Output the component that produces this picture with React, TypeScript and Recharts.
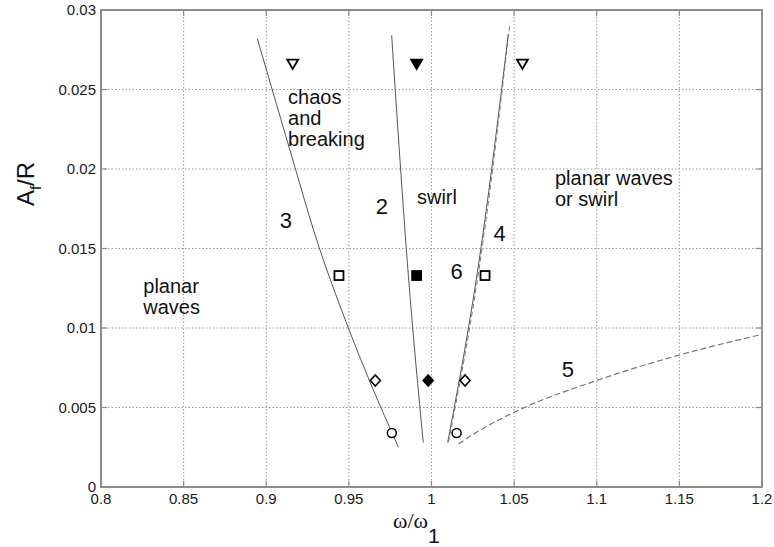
import React from 'react';
import { ComposedChart, Line, Scatter, XAxis, YAxis, CartesianGrid, ReferenceArea } from 'recharts';

document.body.style.margin = '0';

const FONT = '"Liberation Sans", Arial, Helvetica, sans-serif';

// axis ticks
const xTicks = [0.8, 0.85, 0.9, 0.95, 1, 1.05, 1.1, 1.15, 1.2];
const xTickLabels = ['0.8', '0.85', '0.9', '0.95', '1', '1.05', '1.1', '1.15', '1.2'];
const yTicks = [0, 0.005, 0.01, 0.015, 0.02, 0.025, 0.03];
const yTickLabels = ['0', '0.005', '0.01', '0.015', '0.02', '0.025', '0.03'];

// boundary curves
const curve2 = [
  { x: 0.9759, y: 0.0284 },
  { x: 0.986, y: 0.0133 },
  { x: 0.995, y: 0.0028 },
];
const curve3 = [
  { x: 0.8946, y: 0.0282 },
  { x: 0.9174, y: 0.0201 },
  { x: 0.9285, y: 0.0162 },
  { x: 0.9497, y: 0.01 },
  { x: 0.9628, y: 0.0066 },
  { x: 0.98, y: 0.0025 },
];
const curve4 = [
  { x: 1.0098, y: 0.0028 },
  { x: 1.0303, y: 0.0153 },
  { x: 1.0465, y: 0.0285 },
];
const curve4Dashed = [
  { x: 1.0102, y: 0.0028 },
  { x: 1.031, y: 0.0153 },
  { x: 1.0475, y: 0.0292 },
];
const curve5 = [
  { x: 1.0163, y: 0.0027 },
  { x: 1.025, y: 0.0033 },
  { x: 1.05, y: 0.0047 },
  { x: 1.1, y: 0.0067 },
  { x: 1.15, y: 0.0083 },
  { x: 1.2, y: 0.0096 },
];

// experiment markers
const openTriangles = [{ x: 0.916, y: 0.0266 }, { x: 1.055, y: 0.0266 }];
const filledTriangles = [{ x: 0.991, y: 0.0266 }];
const openSquares = [{ x: 0.944, y: 0.0133 }, { x: 1.0324, y: 0.0133 }];
const filledSquares = [{ x: 0.991, y: 0.0133 }];
const openDiamonds = [{ x: 0.966, y: 0.0067 }, { x: 1.0203, y: 0.0067 }];
const filledDiamonds = [{ x: 0.998, y: 0.0067 }];
const openCircles = [{ x: 0.976, y: 0.0034 }, { x: 1.0152, y: 0.0034 }];

// region annotations
const regionLabels = [
  { x: 0.9132, y: 0.0241, lines: ['chaos', 'and', 'breaking'] },
  { x: 0.9912, y: 0.0178, lines: ['swirl'] },
  { x: 1.0747, y: 0.019, lines: ['planar waves', 'or swirl'] },
  { x: 0.8256, y: 0.0122, lines: ['planar', 'waves'] },
];
const curveNumbers = [
  { x: 0.97, y: 0.0172, text: '2' },
  { x: 0.9119, y: 0.0163, text: '3' },
  { x: 1.0413, y: 0.0155, text: '4' },
  { x: 1.0826, y: 0.0069, text: '5' },
  { x: 1.0152, y: 0.0131, text: '6' },
];

const PLOT = { left: 101, right: 762, top: 10, bottom: 487 };
const AXIS = '#8c8c8c';

const XTick = (props: any) => {
  const { x, y, payload } = props;
  const label = xTickLabels[xTicks.indexOf(payload.value)];
  return (
    <g>
      <line x1={x} x2={x} y1={PLOT.bottom} y2={PLOT.bottom - 6} stroke={AXIS} strokeWidth={1.2} />
      <line x1={x} x2={x} y1={PLOT.top} y2={PLOT.top + 6} stroke={AXIS} strokeWidth={1.2} />
      <text x={x} y={y} dy="0.71em" textAnchor="middle" fontSize={15} fontFamily={FONT} fill="#1a1a1a">
        {label}
      </text>
    </g>
  );
};

const YTick = (props: any) => {
  const { x, y, payload } = props;
  const label = yTickLabels[yTicks.indexOf(payload.value)];
  return (
    <g>
      <line x1={PLOT.left} x2={PLOT.left + 6} y1={y} y2={y} stroke={AXIS} strokeWidth={1.2} />
      <line x1={PLOT.right} x2={PLOT.right - 6} y1={y} y2={y} stroke={AXIS} strokeWidth={1.2} />
      <text x={x} y={y} dy="0.355em" textAnchor="end" fontSize={15} fontFamily={FONT} fill="#1a1a1a">
        {label}
      </text>
    </g>
  );
};

const triangle = (filled: boolean) => (p: any) => (
  <polygon
    points={`${p.cx - 5.5},${p.cy - 4.5} ${p.cx + 5.5},${p.cy - 4.5} ${p.cx},${p.cy + 5}`}
    fill={filled ? '#000' : '#fff'}
    stroke="#000"
    strokeWidth={1.8}
    strokeLinejoin="miter"
  />
);
const square = (filled: boolean) => (p: any) => (
  <rect x={p.cx - 4.5} y={p.cy - 4.5} width={9} height={9} fill={filled ? '#000' : '#fff'} stroke="#000" strokeWidth={1.8} />
);
const diamond = (filled: boolean) => (p: any) => (
  <polygon
    points={`${p.cx},${p.cy - 5.5} ${p.cx + 5},${p.cy} ${p.cx},${p.cy + 5.5} ${p.cx - 5},${p.cy}`}
    fill={filled ? '#000' : '#fff'}
    stroke="#000"
    strokeWidth={1.6}
  />
);
const circle = (p: any) => <circle cx={p.cx} cy={p.cy} r={4.5} fill="#fff" stroke="#000" strokeWidth={1.5} />;

const regionText = (p: any) => (
  <text x={p.cx} y={p.cy} fontSize={20} fontFamily={FONT} fill="#111">
    {p.payload.lines.map((l: string, i: number) => (
      <tspan key={i} x={p.cx} dy={i === 0 ? 0 : 21}>
        {l}
      </tspan>
    ))}
  </text>
);
const numberText = (p: any) => (
  <text x={p.cx} y={p.cy} fontSize={22} fontFamily={FONT} fill="#111" textAnchor="middle">
    {p.payload.text}
  </text>
);

const YLabel = () => (
  <text x={34} y={184} transform="rotate(-90 34 184)" textAnchor="middle" fontSize={24} fontFamily={FONT} fill="#111">
    A<tspan dy={7} fontSize={15}>f</tspan>
    <tspan dy={-7}>/R</tspan>
  </text>
);
const XLabel = () => (
  <text x={393} y={528} fontSize={22} fontFamily='"Liberation Serif", "Times New Roman", serif' fill="#111">
    ω/ω
    <tspan dy={15} fontSize={21} fontFamily={FONT}>1</tspan>
  </text>
);

export default function App() {
  return (
    <ComposedChart width={774} height={547} margin={{ top: 10, right: 12, left: 0, bottom: 0 }}>
      <CartesianGrid stroke="#9a9a9a" strokeWidth={1} strokeDasharray="1.5 2" />
      <XAxis
        dataKey="x"
        type="number"
        domain={[0.8, 1.2]}
        ticks={xTicks}
        allowDataOverflow
        height={60}
        stroke={AXIS}
        strokeWidth={1.8}
        tickLine={false}
        tickSize={0}
        tickMargin={6}
        tick={<XTick />}
        label={<XLabel />}
      />
      <YAxis
        dataKey="y"
        type="number"
        domain={[0, 0.03]}
        ticks={yTicks}
        allowDataOverflow
        width={101}
        stroke={AXIS}
        strokeWidth={1.8}
        tickLine={false}
        tickSize={0}
        tickMargin={5}
        tick={<YTick />}
        label={<YLabel />}
      />
      <ReferenceArea x1={0.8} x2={1.2} y1={0} y2={0.03} fill="none" stroke={AXIS} strokeWidth={1.8} ifOverflow="visible" />

      <Line data={curve3} dataKey="y" type="monotone" stroke="#555" strokeWidth={1} dot={false} isAnimationActive={false} />
      <Line data={curve2} dataKey="y" type="monotone" stroke="#555" strokeWidth={1} dot={false} isAnimationActive={false} />
      <Line data={curve4} dataKey="y" type="monotone" stroke="#555" strokeWidth={1} dot={false} isAnimationActive={false} />
      <Line data={curve4Dashed} dataKey="y" type="monotone" stroke="#777" strokeWidth={1} strokeDasharray="5 3" dot={false} isAnimationActive={false} />
      <Line data={curve5} dataKey="y" type="monotone" stroke="#777" strokeWidth={1.2} strokeDasharray="6 3" dot={false} isAnimationActive={false} />

      <Scatter data={openTriangles} shape={triangle(false)} isAnimationActive={false} />
      <Scatter data={filledTriangles} shape={triangle(true)} isAnimationActive={false} />
      <Scatter data={openSquares} shape={square(false)} isAnimationActive={false} />
      <Scatter data={filledSquares} shape={square(true)} isAnimationActive={false} />
      <Scatter data={openDiamonds} shape={diamond(false)} isAnimationActive={false} />
      <Scatter data={filledDiamonds} shape={diamond(true)} isAnimationActive={false} />
      <Scatter data={openCircles} shape={circle} isAnimationActive={false} />

      <Scatter data={regionLabels} shape={regionText} isAnimationActive={false} />
      <Scatter data={curveNumbers} shape={numberText} isAnimationActive={false} />
    </ComposedChart>
  );
}
